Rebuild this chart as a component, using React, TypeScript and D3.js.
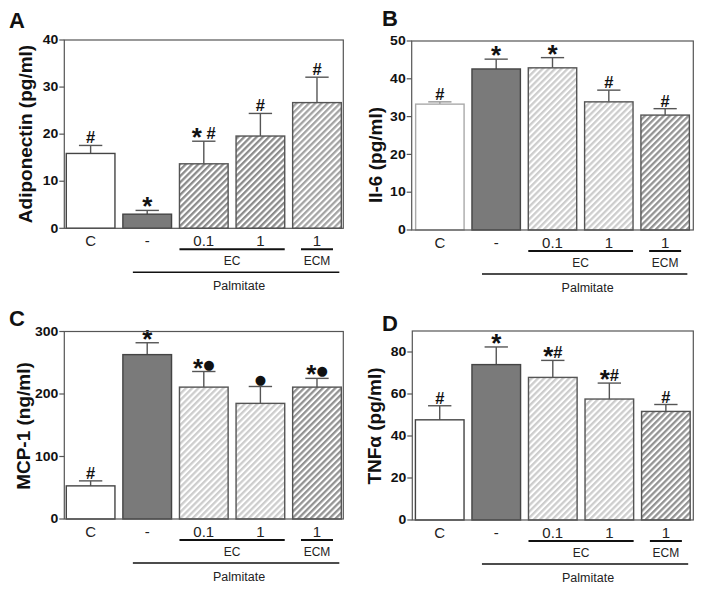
import React from "react";
import * as d3 from "d3";

const categories = ["C", "-", "0.1", "1", "1"];

const adiponectinMean = [15.9, 3.0, 13.7, 19.6, 26.7];
const adiponectinErr = [1.7, 0.8, 4.8, 4.8, 5.4];
const adiponectinSig = ["#", "*", "* #", "#", "#"];
const adiponectinTicks = [0, 10, 20, 30, 40];

const il6Mean = [33.3, 42.6, 42.9, 33.9, 30.4];
const il6Err = [0.6, 2.6, 2.7, 3.1, 1.7];
const il6Sig = ["#", "*", "*", "#", "#"];
const il6Ticks = [0, 10, 20, 30, 40, 50];

const mcp1Mean = [53, 263, 211, 185, 211];
const mcp1Err = [8, 19, 25, 27, 14];
const mcp1Sig = ["#", "*", "*●", "●", "*●"];
const mcp1Ticks = [0, 100, 200, 300];

const tnfMean = [47.7, 74.0, 67.9, 57.6, 51.7];
const tnfErr = [6.7, 8.4, 8.1, 7.6, 3.3];
const tnfSig = ["#", "*", "*#", "*#", "#"];
const tnfTicks = [0, 20, 40, 60, 80];

const FONT = "'Liberation Sans', Arial, Helvetica, sans-serif";

type PanelCfg = {
  letter: string; letterX: number; letterY: number;
  title: string; titleX: number; titleY: number;
  left: number; top: number; right: number; bottom: number;
  max: number; ticks: number[]; po: number;
  mean: number[]; err: number[]; sig: string[];
  fills: string[]; strokes: string[];
};

const panels: PanelCfg[] = [
  {
    letter: "A", letterX: 9, letterY: 28, title: "Adiponectin (pg/ml)", titleX: 25, titleY: 134,
    left: 64.3, top: 40, right: 343.3, bottom: 228.3, max: 40, ticks: adiponectinTicks, po: 0.035,
    mean: adiponectinMean, err: adiponectinErr, sig: adiponectinSig,
    fills: ["#ffffff", "#7a7a7a", "url(#hA1)", "url(#hA1)", "url(#hA2)"],
    strokes: ["#444", "#444", "#555", "#555", "#555"],
  },
  {
    letter: "B", letterX: 382, letterY: 26, title: "Il-6 (pg/ml)", titleX: 375, titleY: 155,
    left: 411.7, top: 41, right: 693.3, bottom: 230, max: 50, ticks: il6Ticks, po: 0.07,
    mean: il6Mean, err: il6Err, sig: il6Sig,
    fills: ["#ffffff", "#7a7a7a", "url(#hL)", "url(#hL)", "url(#hM)"],
    strokes: ["#aaa", "#444", "#555", "#555", "#555"],
  },
  {
    letter: "C", letterX: 9, letterY: 326, title: "MCP-1 (ng/ml)", titleX: 23.5, titleY: 426,
    left: 64.3, top: 331.5, right: 343.3, bottom: 519, max: 300, ticks: mcp1Ticks, po: 0.035,
    mean: mcp1Mean, err: mcp1Err, sig: mcp1Sig,
    fills: ["#ffffff", "#7a7a7a", "url(#hL)", "url(#hL)", "url(#hM)"],
    strokes: ["#444", "#444", "#555", "#555", "#555"],
  },
  {
    letter: "D", letterX: 382, letterY: 331, title: "TNFα (pg/ml)", titleX: 374, titleY: 426,
    left: 412.3, top: 331, right: 693.3, bottom: 520, max: 90, ticks: tnfTicks, po: 0.055,
    mean: tnfMean, err: tnfErr, sig: tnfSig,
    fills: ["#ffffff", "#7a7a7a", "url(#hL)", "url(#hL)", "url(#hM)"],
    strokes: ["#444", "#444", "#555", "#555", "#555"],
  },
];

const STAR_DY = 7;
const DOT_DY = -1;

function Sig({ x, y, text }: { x: number; y: number; text: string }) {
  const parts: React.ReactNode[] = [];
  let shift = 0;
  Array.from(text).forEach((ch, i) => {
    if (ch === "*") {
      parts.push(
        <tspan key={i} dy={STAR_DY - shift} fontSize={26} fontWeight="bold">*</tspan>
      );
      shift = STAR_DY;
    } else if (ch === "●") {
      parts.push(
        <tspan key={i} dy={DOT_DY - shift} fontSize={13} fontFamily="'DejaVu Sans', sans-serif">●</tspan>
      );
      shift = DOT_DY;
    } else {
      parts.push(
        <tspan key={i} dy={-shift} fontSize={16.5} fontWeight="bold">{ch === " " ? "\u00a0" : ch}</tspan>
      );
      shift = 0;
    }
  });
  return (
    <text x={x} y={y} textAnchor="middle" fontFamily={FONT} fill="#111">
      {parts}
    </text>
  );
}

function Panel({ cfg }: { cfg: PanelCfg }) {
  const { left, top, right, bottom } = cfg;
  const idx = d3.range(categories.length);
  const x = d3.scaleBand<number>().domain(idx).range([left, right]).paddingInner(0.14).paddingOuter(cfg.po);
  const y = d3.scaleLinear().domain([0, cfg.max]).range([bottom, top]);
  const bw = x.bandwidth();
  const capW = bw * 0.48;

  const ecStart = x(2)!;
  const ecEnd = x(3)! + bw;
  const ecmC = x(4)! + bw / 2;
  const palStart = x(1)! + 10;
  const palEnd = x(4)! + bw - 2;
  const light = cfg.strokes[0] === "#aaa";

  return (
    <g>
      <text x={cfg.letterX} y={cfg.letterY} fontFamily={FONT} fontWeight="bold" fontSize={22} fill="#111">
        {cfg.letter}
      </text>
      <text
        transform={`translate(${cfg.titleX},${cfg.titleY}) rotate(-90)`}
        textAnchor="middle"
        dominantBaseline="central"
        fontFamily={FONT}
        fontWeight="bold"
        fontSize={19}
        fill="#111"
      >
        {cfg.title}
      </text>
      {idx.map((i) => {
        const x0 = x(i)!;
        const yt = y(cfg.mean[i]);
        const ye = y(cfg.mean[i] + cfg.err[i]);
        const cx = x0 + bw / 2;
        const ec = i === 0 && light ? "#999" : "#555";
        return (
          <g key={i}>
            <line x1={cx} x2={cx} y1={yt} y2={ye} stroke={ec} strokeWidth={1.4} />
            <line x1={cx - capW / 2} x2={cx + capW / 2} y1={ye} y2={ye} stroke={ec} strokeWidth={1.4} />
            <rect x={x0} y={yt} width={bw} height={bottom - yt} fill={cfg.fills[i]} stroke={cfg.strokes[i]} strokeWidth={1.4} />
            <Sig x={cx} y={ye - 2} text={cfg.sig[i]} />
          </g>
        );
      })}
      <rect x={left} y={top} width={right - left} height={bottom - top} fill="none" stroke="#555" strokeWidth={1.2} />
      {cfg.ticks.map((t) => (
        <g key={t}>
          <line x1={left - 5} x2={left} y1={y(t)} y2={y(t)} stroke="#555" strokeWidth={1.2} />
          <text
            transform={`translate(${left - 6},${y(t)}) scale(1.12,1)`}
            textAnchor="end"
            dominantBaseline="central"
            fontFamily={FONT}
            fontWeight="bold"
            fontSize={12.5}
            fill="#111"
          >
            {t}
          </text>
        </g>
      ))}
      {idx.map((i) => (
        <text key={i} x={x(i)! + bw / 2} y={bottom + 12} textAnchor="middle" dominantBaseline="central" fontFamily={FONT} fontSize={15} fill="#222">
          {categories[i]}
        </text>
      ))}
      <line x1={ecStart} x2={ecEnd} y1={bottom + 21} y2={bottom + 21} stroke="#111" strokeWidth={2} />
      <text x={(ecStart + ecEnd) / 2} y={bottom + 33} textAnchor="middle" dominantBaseline="central" fontFamily={FONT} fontSize={12} fill="#222">EC</text>
      <line x1={ecmC - 16} x2={ecmC + 16} y1={bottom + 21} y2={bottom + 21} stroke="#111" strokeWidth={2} />
      <text x={ecmC} y={bottom + 33} textAnchor="middle" dominantBaseline="central" fontFamily={FONT} fontSize={12} fill="#222">ECM</text>
      <line x1={palStart} x2={palEnd} y1={bottom + 44} y2={bottom + 44} stroke="#111" strokeWidth={1.5} />
      <text x={(palStart + palEnd) / 2 + 3} y={bottom + 58} textAnchor="middle" dominantBaseline="central" fontFamily={FONT} fontSize={12.5} fill="#222">Palmitate</text>
    </g>
  );
}

function Hatch({ id, color }: { id: string; color: string }) {
  return (
    <pattern id={id} patternUnits="userSpaceOnUse" width={4.4} height={4.4} patternTransform="rotate(45)">
      <rect x={0} y={0} width={4.4} height={4.4} fill="#ffffff" />
      <rect x={0} y={0} width={2.3} height={4.4} fill={color} />
    </pattern>
  );
}

export default function App() {
  return (
    <svg width={704} height={593} style={{ position: "absolute", left: 0, top: 0, background: "#fff" }}>
      <defs>
        <Hatch id="hA1" color="#8c8c8c" />
        <Hatch id="hA2" color="#a4a4a4" />
        <Hatch id="hL" color="#cdcdcd" />
        <Hatch id="hM" color="#939393" />
      </defs>
      <rect width={704} height={593} fill="#fff" />
      {panels.map((p) => (
        <Panel key={p.letter} cfg={p} />
      ))}
    </svg>
  );
}
